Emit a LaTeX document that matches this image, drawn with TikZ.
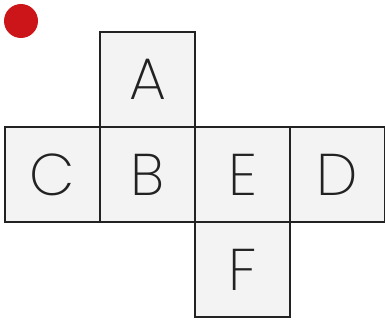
\documentclass[tikz,border=0pt]{standalone}
\usepackage{fontspec}
\setsansfont{Poppins ExtraLight}
\usetikzlibrary{positioning}

\definecolor{netLine}{HTML}{222222}
\definecolor{netFill}{HTML}{F3F3F3}
\definecolor{dotRed}{HTML}{CC1518}

\begin{document}
\begin{tikzpicture}[
  x=1bp, y=1bp,
  font=\sffamily,
  face/.style={
    draw=netLine, fill=netFill, line width=2.2bp,
    minimum size=95bp, inner sep=0pt, outer sep=0pt,
    font=\sffamily\fontsize{59}{59}\selectfont, text=netLine
  }
]
\useasboundingbox (0,0) rectangle (385,320);

% marker
\fill[dotRed] (21,299) circle (17);

% faces of the net
\node[face] (B) at (147.5,145.5) {B};
\node[face, above=0pt of B] (A) {A};
\node[face, left=0pt of B] (C) {C};
\node[face, right=0pt of B] (E) {E};
\node[face, right=0pt of E] (D) {D};
\node[face, below=0pt of E] (F) {F};
\end{tikzpicture}
\end{document}
